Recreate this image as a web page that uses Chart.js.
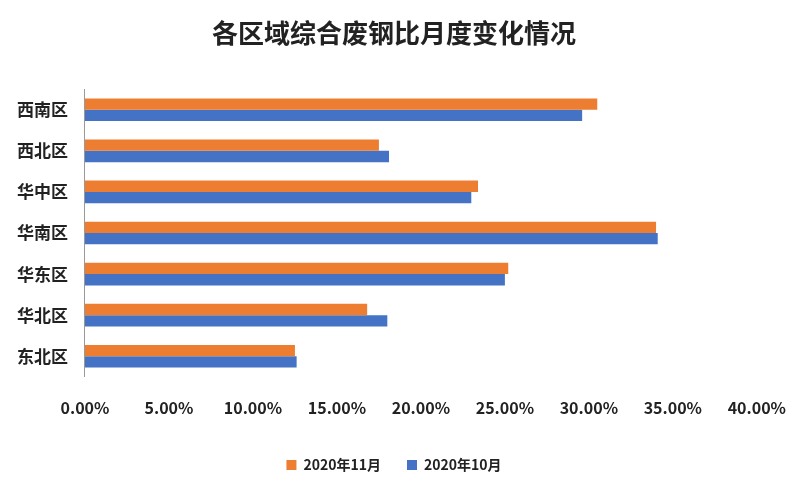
<!DOCTYPE html>
<html><head><meta charset="utf-8">
<script src="https://cdn.jsdelivr.net/npm/chart.js@4"></script>
<style>body{margin:0;background:#fff}#w{width:800px;height:500px}</style>
</head><body><div id="w"><canvas id="c"></canvas></div>
<script>
const categories=["西南区","西北区","华中区","华南区","华东区","华北区","东北区"];
const nov=[30.5,17.5,23.4,34.0,25.2,16.8,12.5];
const oct=[29.6,18.1,23.0,34.1,25.0,18.0,12.6];
const F="'Noto Sans CJK SC', sans-serif";
new Chart(document.getElementById('c'),{type:'bar',
data:{labels:categories,datasets:[
{label:'2020年11月',data:nov,backgroundColor:'#ED7D31',barPercentage:1,categoryPercentage:0.55},
{label:'2020年10月',data:oct,backgroundColor:'#4472C4',barPercentage:1,categoryPercentage:0.55}]},
options:{indexAxis:'y',responsive:true,maintainAspectRatio:false,animation:false,
layout:{padding:{left:8,right:20,top:14,bottom:18}},
plugins:{title:{display:true,text:'各区域综合废钢比月度变化情况',font:{family:F,size:26,weight:'bold'},color:'#222',padding:{top:4,bottom:40}},
legend:{position:'bottom',labels:{boxWidth:10,boxHeight:10,font:{family:F,size:14,weight:'bold'},color:'#222',padding:26}},tooltip:{enabled:false}},
scales:{x:{min:0,max:40,ticks:{stepSize:5,callback:v=>v.toFixed(2)+'%',font:{family:F,size:16,weight:'bold'},color:'#222',padding:14},grid:{display:false},border:{display:false}},
y:{ticks:{font:{family:F,size:17,weight:'bold'},color:'#222',padding:9},grid:{display:false},border:{color:'#999'}}}}});
</script></body></html>
